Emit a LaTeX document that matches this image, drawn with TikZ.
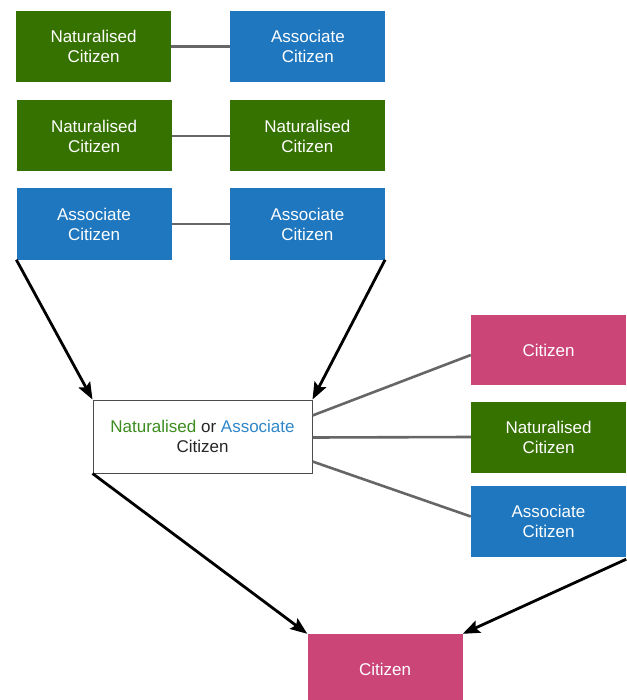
\documentclass[tikz,border=0pt]{standalone}
\usepackage{fontspec}
\setmainfont{Liberation Sans}
\usetikzlibrary{positioning}
\usetikzlibrary{arrows.meta}
\definecolor{natgreen}{HTML}{367200}
\definecolor{assblue}{HTML}{1F77BF}
\definecolor{citpink}{HTML}{CB4577}
\definecolor{nattext}{HTML}{3C8C1E}
\definecolor{asstext}{HTML}{2F87C9}
\begin{document}
\begin{tikzpicture}[x=1pt,y=-1pt,
    box/.style={rectangle,minimum width=155pt,minimum height=71pt,inner sep=0pt,
      align=center,text=white,font=\fontsize{17}{20}\selectfont},
    nat/.style={box,fill=natgreen},
    ass/.style={box,fill=assblue},
    cit/.style={box,fill=citpink,minimum height=70pt},
    link/.style={draw=black!60,line width=2.6pt},
    arrow/.style={draw=black,line width=2.8pt,-{Stealth[length=17pt,width=13pt,inset=3pt]}},
]
\useasboundingbox (0,0) rectangle (626,700);
\begin{scope}[node distance=59pt]
  \node[nat]         (N1) at (93.5,46.5) {Naturalised\\Citizen};
  \node[ass]         (A1) [right=of N1]  {Associate\\Citizen};
  \node[nat]         (N2) at (94,136)    {Naturalised\\Citizen};
  \node[nat]         (N3) [right=58pt of N2] {Naturalised\\Citizen};
  \node[ass]         (A2) at (94,224)    {Associate\\Citizen};
  \node[ass]         (A3) [right=58pt of A2] {Associate\\Citizen};
\end{scope}
\node[box,text=black!85,fill=white,draw=black!70,line width=1pt,
  minimum width=219pt,minimum height=73pt] (M) at (202.5,436.5)
  {\textcolor{nattext}{Naturalised} or \textcolor{asstext}{Associate}\\Citizen};
\node[cit]         (C1) at (548.5,350)   {Citizen};
\node[nat]         (N4) at (548.5,437)   {Naturalised\\Citizen};
\node[ass]         (A4) at (548.5,521.5) {Associate\\Citizen};
\node[cit]         (C2) at (385,669)     {Citizen};
% pairs
\draw[link] (N1) -- (A1);
\draw[link] (N2) -- (N3);
\draw[link] (A2) -- (A3);
% fan out
\draw[link] ([yshift=21pt]M.east) -- ([yshift=-5pt]C1.west);
\draw[link] ([yshift=-1pt]M.east) -- (N4.west);
\draw[link] ([yshift=-25pt]M.east) -- ([yshift=5pt]A4.west);
% arrows
\draw[arrow] (A2.south west) -- (M.north west);
\draw[arrow] (A3.south east) -- (M.north east);
\draw[arrow] (M.south west) -- (C2.north west);
\draw[arrow] ([yshift=-2pt]A4.south east) -- (C2.north east);
\end{tikzpicture}
\end{document}
